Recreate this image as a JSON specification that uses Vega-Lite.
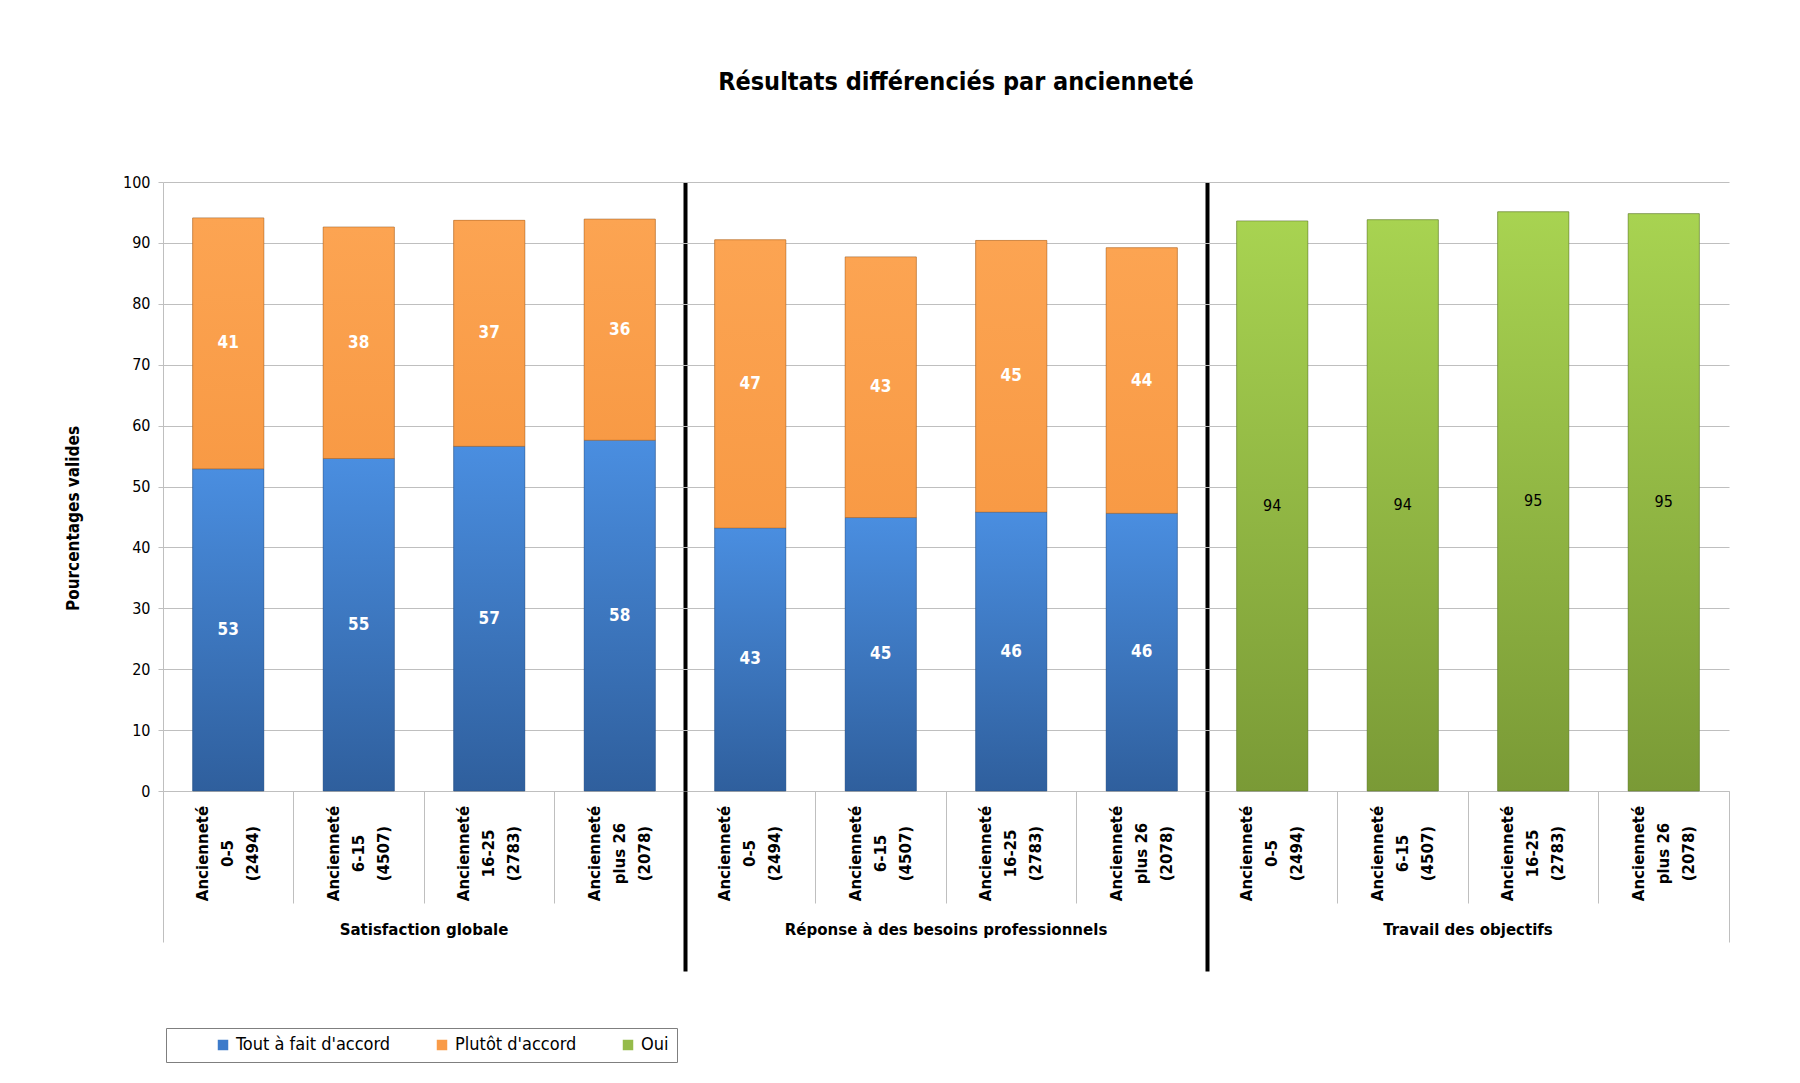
{
  "$schema": "https://vega.github.io/schema/vega-lite/v6.json",
  "autosize": "none",
  "width": 1566,
  "height": 609,
  "padding": {"left": 163, "top": 182, "right": 71, "bottom": 292},
  "background": "white",
  "title": {
    "text": "Résultats différenciés par ancienneté",
    "font": "Liberation Sans Narrow, DejaVu Sans Condensed, sans-serif",
    "fontSize": 25,
    "fontWeight": "bold",
    "color": "#000000",
    "anchor": "middle",
    "frame": "group",
    "offset": 79,
    "dx": 10
  },
  "config": {
    "view": {"stroke": null},
    "legend": {
      "orient": "none",
      "legendX": 3,
      "legendY": 846,
      "direction": "horizontal",
      "title": null,
      "symbolType": "square",
      "symbolSize": 110,
      "symbolStrokeWidth": 0,
      "labelFont": "Liberation Sans Narrow, DejaVu Sans Condensed, sans-serif",
      "labelFontSize": 18,
      "labelColor": "#000000",
      "strokeColor": "#7f7f7f",
      "padding": 8,
      "columnPadding": 2,
      "symbolOffset": 40,
      "labelOffset": 4,
      "labelLimit": 400
    }
  },
  "datasets": {
    "bars": [
      {"group": "Satisfaction globale", "cat": "Satisfaction globale|0-5|(2494)", "series": "Tout à fait d'accord", "value": 52.9},
      {"group": "Satisfaction globale", "cat": "Satisfaction globale|0-5|(2494)", "series": "Plutôt d'accord", "value": 41.2},
      {"group": "Satisfaction globale", "cat": "Satisfaction globale|6-15|(4507)", "series": "Tout à fait d'accord", "value": 54.6},
      {"group": "Satisfaction globale", "cat": "Satisfaction globale|6-15|(4507)", "series": "Plutôt d'accord", "value": 38.0},
      {"group": "Satisfaction globale", "cat": "Satisfaction globale|16-25|(2783)", "series": "Tout à fait d'accord", "value": 56.6},
      {"group": "Satisfaction globale", "cat": "Satisfaction globale|16-25|(2783)", "series": "Plutôt d'accord", "value": 37.1},
      {"group": "Satisfaction globale", "cat": "Satisfaction globale|plus 26|(2078)", "series": "Tout à fait d'accord", "value": 57.6},
      {"group": "Satisfaction globale", "cat": "Satisfaction globale|plus 26|(2078)", "series": "Plutôt d'accord", "value": 36.3},
      {"group": "Réponse à des besoins professionnels", "cat": "Réponse à des besoins professionnels|0-5|(2494)", "series": "Tout à fait d'accord", "value": 43.2},
      {"group": "Réponse à des besoins professionnels", "cat": "Réponse à des besoins professionnels|0-5|(2494)", "series": "Plutôt d'accord", "value": 47.3},
      {"group": "Réponse à des besoins professionnels", "cat": "Réponse à des besoins professionnels|6-15|(4507)", "series": "Tout à fait d'accord", "value": 44.9},
      {"group": "Réponse à des besoins professionnels", "cat": "Réponse à des besoins professionnels|6-15|(4507)", "series": "Plutôt d'accord", "value": 42.8},
      {"group": "Réponse à des besoins professionnels", "cat": "Réponse à des besoins professionnels|16-25|(2783)", "series": "Tout à fait d'accord", "value": 45.8},
      {"group": "Réponse à des besoins professionnels", "cat": "Réponse à des besoins professionnels|16-25|(2783)", "series": "Plutôt d'accord", "value": 44.6},
      {"group": "Réponse à des besoins professionnels", "cat": "Réponse à des besoins professionnels|plus 26|(2078)", "series": "Tout à fait d'accord", "value": 45.6},
      {"group": "Réponse à des besoins professionnels", "cat": "Réponse à des besoins professionnels|plus 26|(2078)", "series": "Plutôt d'accord", "value": 43.6},
      {"group": "Travail des objectifs", "cat": "Travail des objectifs|0-5|(2494)", "series": "Oui", "value": 93.6},
      {"group": "Travail des objectifs", "cat": "Travail des objectifs|6-15|(4507)", "series": "Oui", "value": 93.8},
      {"group": "Travail des objectifs", "cat": "Travail des objectifs|16-25|(2783)", "series": "Oui", "value": 95.1},
      {"group": "Travail des objectifs", "cat": "Travail des objectifs|plus 26|(2078)", "series": "Oui", "value": 94.8}
    ],
    "groups": [
      {"group": "Satisfaction globale"},
      {"group": "Réponse à des besoins professionnels"},
      {"group": "Travail des objectifs"}
    ]
  },
  "resolve": {"scale": {"x": "independent"}},
  "layer": [
    {
      "data": {"name": "bars"},
      "transform": [
        {"stack": "value", "groupby": ["cat"], "sort": [{"field": "series", "order": "descending"}], "as": ["v0", "v1"]},
        {"calculate": "(datum.v0 + datum.v1) / 2", "as": "mid"}
      ],
      "encoding": {
        "x": {
          "field": "cat", "type": "nominal",
          "sort": ["Satisfaction globale|0-5|(2494)", "Satisfaction globale|6-15|(4507)", "Satisfaction globale|16-25|(2783)", "Satisfaction globale|plus 26|(2078)", "Réponse à des besoins professionnels|0-5|(2494)", "Réponse à des besoins professionnels|6-15|(4507)", "Réponse à des besoins professionnels|16-25|(2783)", "Réponse à des besoins professionnels|plus 26|(2078)", "Travail des objectifs|0-5|(2494)", "Travail des objectifs|6-15|(4507)", "Travail des objectifs|16-25|(2783)", "Travail des objectifs|plus 26|(2078)"],
          "scale": {"paddingInner": 0, "paddingOuter": 0},
          "axis": {
            "orient": "bottom",
            "title": null,
            "bandPosition": 0,
            "labelOffset": -25,
            "labelAngle": -90,
            "labelAlign": "center",
            "labelBaseline": "middle",
            "labelPadding": -50,
            "labelExpr": "['Ancienneté', split(datum.label, '|')[1], split(datum.label, '|')[2]]",
            "labelFont": "DejaVu Sans",
            "labelFontWeight": "bold",
            "labelFontSize": 15,
            "labelLineHeight": 25,
            "labelColor": "#000000",
            "labelLimit": 300,
            "tickSize": 112,
            "tickColor": "#bfbfbf",
            "domainColor": "#bfbfbf",
            "grid": false
          }
        }
      },
      "layer": [
        {
          "mark": {"type": "bar", "width": {"band": 0.545}, "stroke": "#000000", "strokeOpacity": 0.18, "strokeWidth": 1},
          "encoding": {
            "y": {
              "field": "v0", "type": "quantitative",
              "scale": {"domain": [0, 100], "nice": false},
              "axis": {
                "title": "Pourcentages  valides",
                "titleFont": "Liberation Sans Narrow, DejaVu Sans Condensed, sans-serif",
                "titleFontSize": 17,
                "titleFontWeight": "bold",
                "titleColor": "#000000",
                "titlePadding": 40,
                "titleY": 336,
                "values": [0, 10, 20, 30, 40, 50, 60, 70, 80, 90, 100],
                "grid": true,
                "gridColor": "#bfbfbf",
                "domainColor": "#bfbfbf",
                "tickColor": "#bfbfbf",
                "tickSize": 5,
                "labelPadding": 8,
                "labelFont": "Liberation Sans Narrow, DejaVu Sans Condensed, sans-serif",
                "labelFontSize": 16,
                "labelColor": "#000000"
              }
            },
            "y2": {"field": "v1"},
            "color": {
              "field": "series", "type": "nominal",
              "scale": {
                "domain": ["Tout à fait d'accord", "Plutôt d'accord", "Oui"],
                "range": ["#3d7bca", "#f99b48", "#95bb4a"]
              }
            }
          }
        },
        {
          "transform": [{"filter": "datum.series === \"Tout à fait d'accord\""}],
          "mark": {"type": "bar", "width": {"band": 0.545}, "stroke": "#1f4a80", "strokeOpacity": 0.35, "strokeWidth": 1,
            "color": {"gradient": "linear", "x1": 0, "y1": 0, "x2": 0, "y2": 1, "stops": [{"offset": 0, "color": "#4a8ee0"}, {"offset": 1, "color": "#2f5f9d"}]}},
          "encoding": {
            "y": {"field": "v0", "type": "quantitative"},
            "y2": {"field": "v1"}
          }
        },
        {
          "transform": [{"filter": "datum.series === \"Plutôt d'accord\""}],
          "mark": {"type": "bar", "width": {"band": 0.545}, "stroke": "#b5651d", "strokeOpacity": 0.45, "strokeWidth": 1,
            "color": {"gradient": "linear", "x1": 0, "y1": 0, "x2": 0, "y2": 1, "stops": [{"offset": 0, "color": "#fca452"}, {"offset": 1, "color": "#f89a45"}]}},
          "encoding": {
            "y": {"field": "v0", "type": "quantitative"},
            "y2": {"field": "v1"}
          }
        },
        {
          "transform": [{"filter": "datum.series === 'Oui'"}],
          "mark": {"type": "bar", "width": {"band": 0.545}, "stroke": "#5e7a25", "strokeOpacity": 0.45, "strokeWidth": 1,
            "color": {"gradient": "linear", "x1": 0, "y1": 0, "x2": 0, "y2": 1, "stops": [{"offset": 0, "color": "#a8d351"}, {"offset": 1, "color": "#7a9a36"}]}},
          "encoding": {
            "y": {"field": "v0", "type": "quantitative"},
            "y2": {"field": "v1"}
          }
        },
        {
          "transform": [{"filter": "datum.series !== 'Oui'"}],
          "mark": {"type": "text", "color": "#ffffff", "fontWeight": "bold", "fontSize": 17, "font": "Liberation Sans Narrow, DejaVu Sans Condensed, sans-serif"},
          "encoding": {
            "y": {"field": "mid", "type": "quantitative"},
            "text": {"field": "value", "type": "quantitative", "format": ".0f"}
          }
        },
        {
          "transform": [{"filter": "datum.series === 'Oui'"}],
          "mark": {"type": "text", "color": "#000000", "fontSize": 16, "font": "Liberation Sans Narrow, DejaVu Sans Condensed, sans-serif"},
          "encoding": {
            "y": {"field": "mid", "type": "quantitative"},
            "text": {"field": "value", "type": "quantitative", "format": ".0f"}
          }
        }
      ]
    },
    {
      "data": {"name": "groups"},
      "mark": {"type": "rule", "opacity": 0},
      "encoding": {
        "x": {
          "field": "group", "type": "nominal",
          "sort": ["Satisfaction globale", "Réponse à des besoins professionnels", "Travail des objectifs"],
          "scale": {"paddingInner": 0, "paddingOuter": 0},
          "axis": {
            "orient": "bottom",
            "title": null,
            "bandPosition": 0,
            "domain": false,
            "labelOffset": 0,
            "labelAngle": 0,
            "labelAlign": "center",
            "labelBaseline": "middle",
            "labelPadding": {"condition": {"test": "datum.value === 'Satisfaction globale'", "value": -13}, "value": -42},
            "labelFont": "Liberation Sans Narrow, DejaVu Sans Condensed, sans-serif",
            "labelFontWeight": "bold",
            "labelFontSize": 16.7,
            "labelColor": "#000000",
            "labelLimit": 500,
            "tickSize": {"condition": {"test": "datum.value === 'Satisfaction globale'", "value": 151}, "value": 180},
            "tickColor": {"condition": {"test": "datum.value === 'Satisfaction globale'", "value": "#bfbfbf"}, "value": "#000000"},
            "tickWidth": {"condition": {"test": "datum.value === 'Satisfaction globale'", "value": 1}, "value": 4},
            "grid": true,
            "gridColor": {"condition": {"test": "datum.value === 'Satisfaction globale'", "value": "transparent"}, "value": "#000000"},
            "gridWidth": 4
          }
        }
      }
    },
    {
      "data": {"name": "groups"},
      "mark": {"type": "rule", "opacity": 0},
      "encoding": {
        "x": {
          "field": "group", "type": "nominal",
          "sort": ["Satisfaction globale", "Réponse à des besoins professionnels", "Travail des objectifs"],
          "scale": {"paddingInner": 0, "paddingOuter": 0},
          "axis": {
            "orient": "bottom",
            "title": null,
            "bandPosition": 1,
            "values": ["Travail des objectifs"],
            "domain": false,
            "labels": false,
            "grid": false,
            "tickSize": 151,
            "tickColor": "#bfbfbf",
            "tickWidth": 1
          }
        }
      }
    }
  ]
}
